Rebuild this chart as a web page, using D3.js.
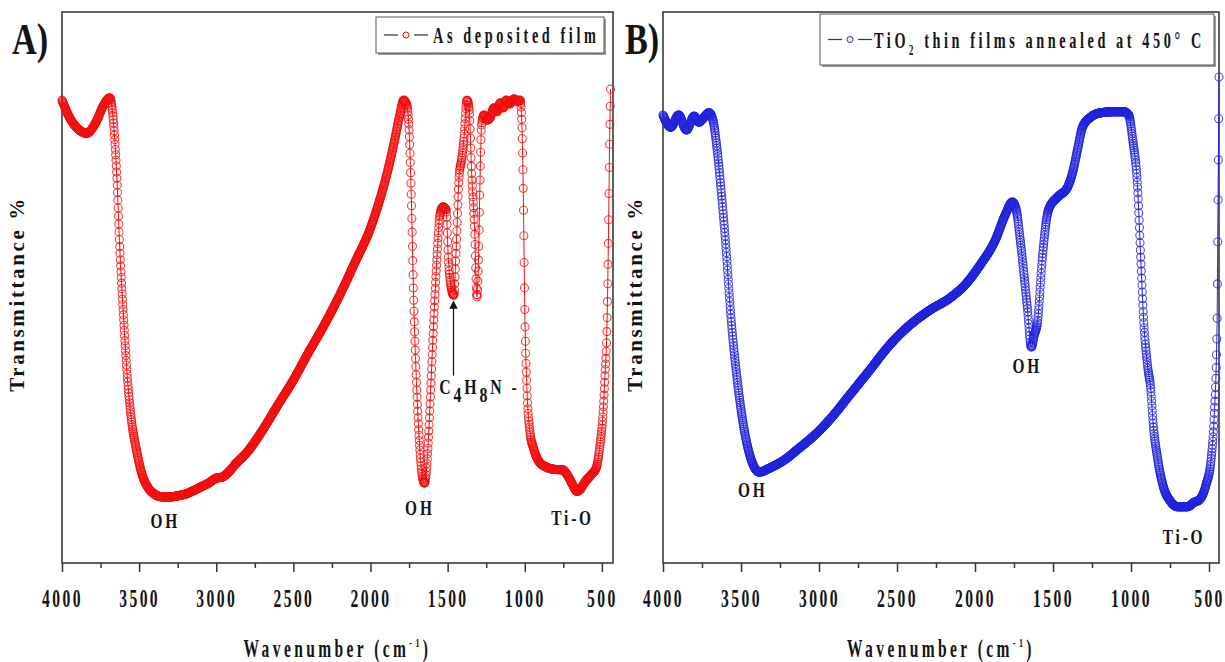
<!DOCTYPE html>
<html>
<head>
<meta charset="utf-8">
<script src="https://cdn.jsdelivr.net/npm/d3@7"></script>
<style>
  body { margin: 0; background: #fff; }
  svg text { font-family: "Liberation Serif", "Times New Roman", serif; font-weight: bold; fill: #141414; }
</style>
</head>
<body>
<svg id="chart" width="1225" height="662"></svg>
<script>
// A) as deposited film: wavenumber (cm-1) and transmittance (%)
const wnA = [4000, 3950, 3900, 3840, 3780, 3730, 3690, 3665, 3645, 3625,
  3600, 3575, 3550, 3520, 3480, 3440, 3400, 3350, 3300, 3250,
  3200, 3150, 3100, 3050, 3000, 2960, 2920, 2880, 2800, 2700,
  2600, 2500, 2400, 2300, 2200, 2100, 2000, 1950, 1900, 1850,
  1810, 1785, 1765, 1750, 1735, 1720, 1700, 1680, 1660, 1650,
  1640, 1625, 1610, 1590, 1570, 1550, 1530, 1510, 1495, 1480,
  1460, 1445, 1425, 1410, 1395, 1375, 1360, 1345, 1325, 1310,
  1300, 1290, 1280, 1265, 1245, 1225, 1200, 1180, 1160, 1140,
  1120, 1100, 1070, 1045, 1030, 1018, 1010, 1000, 985, 965,
  945, 910, 860, 810, 755, 720, 690, 662, 640, 610,
  570, 535, 510, 494, 480, 468, 458, 450, 444]
const tA = [84.0, 80.8, 78.9, 78.0, 80.0, 83.1, 84.4, 79.5, 70.4, 56.8,
  44.1, 33.2, 26.0, 20.9, 16.0, 13.6, 12.5, 12.0, 12.0, 12.2,
  12.5, 13.1, 13.8, 14.5, 15.4, 15.6, 16.5, 17.8, 20.1, 24.1,
  28.7, 33.2, 38.3, 43.2, 48.6, 54.6, 60.8, 65.0, 69.9, 75.9,
  81.3, 84.0, 83.1, 78.6, 65.9, 47.7, 31.4, 20.5, 15.1, 14.5,
  16.0, 22.3, 31.4, 44.1, 55.0, 63.2, 64.6, 64.1, 55.0, 50.5,
  48.6, 56.8, 70.4, 73.1, 76.8, 84.0, 82.2, 71.3, 60.4, 48.3,
  55.0, 69.5, 79.5, 81.3, 80.4, 80.8, 82.6, 81.9, 83.5, 82.6,
  84.0, 83.3, 84.2, 83.8, 84.0, 79.0, 68.0, 46.0, 31.0, 23.5,
  21.0, 18.5, 17.4, 17.0, 16.9, 15.8, 14.2, 13.0, 13.4, 14.7,
  16.0, 17.4, 22.0, 26.5, 34.0, 42.0, 58.0, 76.0, 86.0]

// B) TiO2 annealed at 450 C
const wnB = [4000, 3950, 3900, 3850, 3800, 3770, 3740, 3705, 3680, 3655,
  3627, 3600, 3563, 3524, 3479, 3434, 3382, 3318, 3222, 3125,
  3028, 2932, 2803, 2675, 2546, 2417, 2289, 2160, 2063, 1967,
  1870, 1806, 1761, 1735, 1710, 1665, 1639, 1620, 1600, 1568,
  1529, 1471, 1407, 1375, 1343, 1311, 1259, 1195, 1100, 1047,
  1015, 989, 957, 938, 918, 893, 873, 860, 828, 796,
  745, 700, 640, 590, 564, 519, 487, 468, 449, 442,
  436]
const tB = [81.3, 79.1, 81.3, 78.6, 81.1, 80.0, 80.8, 81.7, 80.4, 75.5,
  67.5, 58.6, 44.1, 33.2, 24.1, 18.7, 16.5, 17.2, 18.7, 20.9,
  23.2, 26.0, 30.5, 35.0, 39.6, 43.2, 45.9, 48.1, 50.5, 54.1,
  58.6, 63.2, 65.5, 64.0, 58.6, 46.5, 39.2, 41.4, 43.6, 55.5,
  64.1, 66.4, 68.2, 70.8, 75.0, 79.1, 80.9, 81.7, 81.9, 81.9,
  81.3, 76.8, 67.7, 55.5, 43.6, 35.6, 31.4, 26.0, 18.7, 14.2,
  11.1, 10.2, 10.2, 11.1, 11.4, 14.2, 18.7, 26.0, 42.3, 65.9,
  88.2]

const majorTicks = [4000, 3500, 3000, 2500, 2000, 1500, 1000, 500]
const minorTicks = [3750, 3250, 2750, 2250, 1750, 1250, 750]

const plotTop = 12
const plotBottom = 563

let svg = d3.select('#chart')

/**
 * Adds a bold serif text squeezed horizontally (the picture uses narrow letters).
 */
function narrowText(g, x, y, size, sx, spacing, anchor) {
  return g.append('text')
    .attr('transform', 'translate(' + x + ',' + y + ') scale(' + sx + ',1)')
    .attr('text-anchor', anchor || 'middle')
    .style('font-size', size + 'px')
    .style('letter-spacing', spacing + 'px')
}

/**
 * Appends [text, dy, fontSize] pieces as tspans (for sub and superscripts).
 */
function addPieces(text, pieces) {
  pieces.forEach(pc => {
    let t = text.append('tspan').text(pc[0])
    if (pc[1]) t.attr('dy', pc[1])
    if (pc[2]) t.style('font-size', pc[2] + 'px')
  })
  return text
}

/**
 * Symbol positions every stepPx along the path that d3.line produced.
 * curveMonotoneX puts the control points at thirds in x, so x is linear in t
 * inside every bezier segment and y is read from the same segment.
 */
function symbolPoints(d, stepPx) {
  let nums = d.match(/-?\d*\.?\d+(e[-+]?\d+)?/g).map(Number)
  let x0 = nums[0], y0 = nums[1]
  let pts = []
  let tx = x0
  for (let k = 2; k + 5 < nums.length; k += 6) {
    let c1y = nums[k + 1], c2y = nums[k + 3], x1 = nums[k + 4], y1 = nums[k + 5]
    while (tx <= x1) {
      let t = (tx - x0) / (x1 - x0)
      let u = 1 - t
      pts.push([tx, u * u * u * y0 + 3 * u * u * t * c1y + 3 * u * t * t * c2y + t * t * t * y1])
      tx += stepPx
    }
    x0 = x1
    y0 = y1
  }
  return pts
}

/**
 * Draws one spectrum panel.
 */
function drawPanel(p) {
  let x = d3.scaleLinear().domain([4000, p.end]).range([p.left, p.right])
  let y = d3.scaleLinear().domain([0, 100]).range([plotBottom, plotTop])
  let g = svg.append('g')

  // ticks below the frame
  let axis = g.append('g').attr('transform', 'translate(0,' + plotBottom + ')')
    .call(d3.axisBottom(x).tickValues(majorTicks).tickSize(9).tickPadding(17).tickFormat(d3.format('d')))
  let minor = g.append('g').attr('transform', 'translate(0,' + plotBottom + ')')
    .call(d3.axisBottom(x).tickValues(minorTicks).tickSize(5).tickFormat(''))
  axis.select('.domain').remove()
  minor.select('.domain').remove()
  g.selectAll('.tick line').attr('stroke', '#333').attr('stroke-width', 1.5)
  axis.selectAll('text')
    .attr('transform', 'scale(0.6,1)')
    .style('font-size', '26px')
    .style('letter-spacing', '4px')

  // frame
  g.append('rect')
    .attr('x', p.left).attr('y', plotTop)
    .attr('width', p.right - p.left).attr('height', plotBottom - plotTop)
    .attr('fill', 'none').attr('stroke', '#3a3a3a').attr('stroke-width', 1.6)

  // spectrum line
  let line = d3.line()
    .x((d, i) => x(p.wn[i]))
    .y(d => y(d))
    .curve(d3.curveMonotoneX)
  let d = line(p.t)
  g.append('path')
    .attr('d', d)
    .attr('fill', 'none')
    .attr('stroke', p.color)
    .attr('stroke-width', 1)

  // open circle symbols every 2 cm-1 along the drawn line
  let pts = symbolPoints(d, Math.abs(x(1000) - x(1002)))
  g.append('g').selectAll('circle')
    .data(pts)
    .join('circle')
    .attr('cx', d => d[0])
    .attr('cy', d => d[1])
    .attr('r', 4)
    .attr('fill', 'none')
    .attr('stroke', p.color)
    .attr('stroke-width', 1.1)
    .attr('stroke-opacity', 0.8)

  // peak labels
  p.notes.forEach(n => {
    let t = narrowText(g, x(n.wn), y(n.t) + 7, 22, 0.7, 4, 'middle')
    addPieces(t, n.pieces)
  })

  // axis titles
  let xt = narrowText(g, (p.left + p.right) / 2, 657, 25, 0.62, 5.5, 'middle')
  addPieces(xt, [['Wavenumber (cm'], ['-1', -10, 13], [')', 10, 25]])
  g.append('text')
    .attr('transform', 'translate(' + p.yTitleX + ',' + 294 + ') rotate(-90)')
    .attr('text-anchor', 'middle')
    .style('font-size', '21px')
    .style('letter-spacing', '2.6px')
    .text('Transmittance %')

  // panel letter
  narrowText(g, p.letterX, 54, 45, 0.76, 0, 'start').text(p.letter)

  // legend
  let lg = p.legend
  g.append('rect')
    .attr('x', lg.x + 2).attr('y', lg.y + 2).attr('width', lg.w).attr('height', lg.h)
    .attr('fill', '#9a9a9a')
  g.append('rect')
    .attr('x', lg.x).attr('y', lg.y).attr('width', lg.w).attr('height', lg.h)
    .attr('fill', '#fff').attr('stroke', '#555').attr('stroke-width', 1)
  let cy = lg.y + lg.h / 2
  g.append('line').attr('x1', lg.x + 8).attr('x2', lg.x + 22).attr('y1', cy).attr('y2', cy)
    .attr('stroke', '#333').attr('stroke-width', 1.2)
  g.append('line').attr('x1', lg.x + 38).attr('x2', lg.x + 52).attr('y1', cy).attr('y2', cy)
    .attr('stroke', '#333').attr('stroke-width', 1.2)
  g.append('circle').attr('cx', lg.x + 30).attr('cy', cy).attr('r', 3)
    .attr('fill', 'none').attr('stroke', p.color).attr('stroke-width', 1)
  let lt = narrowText(g, lg.x + lg.textDx, cy + 8, 23, 0.62, lg.spacing, 'start')
  addPieces(lt, lg.pieces)

  return { g: g, x: x, y: y }
}

let panelA = drawPanel({
  left: 62, right: 613, end: 428,
  wn: wnA, t: tA, color: '#f21010',
  letter: 'A)', letterX: 12, yTitleX: 24,
  legend: { x: 376, y: 17, w: 228, h: 36, textDx: 57, spacing: 5.8, pieces: [['As deposited film']] },
  notes: [
    { wn: 3330, t: 7.6, pieces: [['OH']] },
    { wn: 1680, t: 10.0, pieces: [['OH']] },
    { wn: 690, t: 8.2, pieces: [['Ti-O']] }
  ]
})

// C4H8N- label with an arrow pointing at the 1460 cm-1 band
let cLabel = narrowText(panelA.g, panelA.x(1555), panelA.y(32.0) + 7, 22, 0.72, 4, 'start')
addPieces(cLabel, [['C'], ['4', 8], ['H', -8], ['8', 8], ['N -', -8]])
panelA.g.append('defs').append('marker')
  .attr('id', 'arrowHead')
  .attr('viewBox', '0 0 10 10').attr('refX', 9).attr('refY', 5)
  .attr('markerWidth', 7).attr('markerHeight', 7)
  .attr('orient', 'auto')
  .append('path').attr('d', 'M0,0 L10,5 L0,10 z').attr('fill', '#111')
panelA.g.append('line')
  .attr('x1', panelA.x(1462)).attr('x2', panelA.x(1462))
  .attr('y1', panelA.y(34.0)).attr('y2', panelA.y(47.5))
  .attr('stroke', '#111').attr('stroke-width', 1.2)
  .attr('marker-end', 'url(#arrowHead)')

drawPanel({
  left: 663, right: 1219, end: 436,
  wn: wnB, t: tB, color: '#2424dc',
  letter: 'B)', letterX: 625, yTitleX: 642,
  legend: { x: 820, y: 14, w: 394, h: 51, textDx: 54, spacing: 5.8,
    pieces: [['TiO'], ['2', 7, 14], [' thin films annealed at 450', -7, 23], ['°', 0, 23], [' C']] },
  notes: [
    { wn: 3425, t: 13.2, pieces: [['OH']] },
    { wn: 1665, t: 35.8, pieces: [['OH']] },
    { wn: 660, t: 4.7, pieces: [['Ti-O']] }
  ]
})
</script>
</body>
</html>
